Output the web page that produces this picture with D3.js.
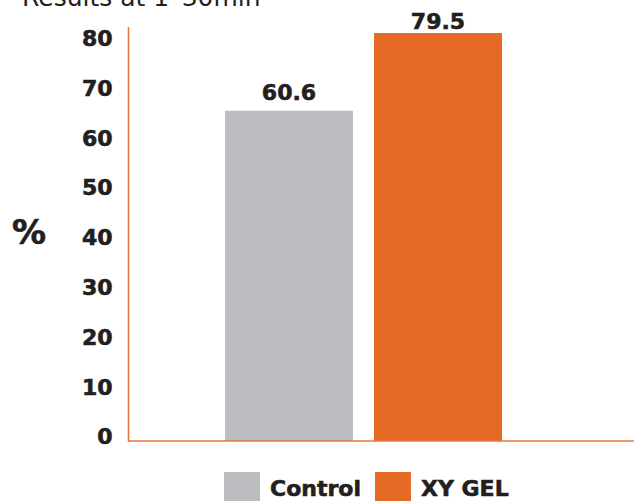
<!DOCTYPE html>
<html><head><meta charset="utf-8">
<script src="https://cdn.jsdelivr.net/npm/d3@7"></script>
<style>html,body{margin:0;padding:0;background:#fff;}svg{display:block;}</style>
</head><body>
<svg id="chart" width="634" height="501"></svg>
<script>
// Data
const categories = ["Control", "XY GEL"];
const barValues = [66.3, 81.9];          // bar heights as drawn in the reference
const valueLabels = ["60.6", "79.5"];    // printed labels above the bars
const barColors = ["#BCBDC1", "#E56A25"];
const yTicks = [0, 10, 20, 30, 40, 50, 60, 70, 80];
const titleText = "Results at 1–30min";
const yAxisTitle = "%";

const svg = d3.select("#chart");
const textColor = "#231F20";
const axisColor = "#E8773A";
const font = "'DejaVu Sans', sans-serif";
const heavy = sel => sel.attr("stroke", textColor).attr("stroke-width", 0.6).attr("paint-order", "stroke");

const x0 = 128.5, baseY = 441, topY = 27;
const y = d3.scaleLinear().domain([0, 80]).range([baseY, 42.5]);
const x = d3.scaleBand().domain(categories).range([225, 502]).paddingInner(0.141).paddingOuter(0);

// Title (cut off at top)
svg.append("text").attr("x", 22).attr("y", 6)
  .attr("font-family", font).attr("font-size", 25).attr("font-weight", 500)
  .attr("fill", textColor).text(titleText);

// Bars
svg.selectAll("rect.bar").data(categories).enter().append("rect")
  .attr("class", "bar")
  .attr("x", d => x(d)).attr("width", x.bandwidth())
  .attr("y", (d, i) => y(barValues[i]))
  .attr("height", (d, i) => baseY - y(barValues[i]))
  .attr("fill", (d, i) => barColors[i]);

// Value labels
const labelGap = [11, 4];
svg.selectAll("text.val").data(categories).enter().append("text")
  .attr("class", "val")
  .attr("x", d => x(d) + x.bandwidth() / 2)
  .attr("y", (d, i) => y(barValues[i]) - labelGap[i])
  .attr("text-anchor", "middle")
  .attr("font-family", font).attr("font-size", 22).attr("font-weight", "bold")
  .attr("fill", textColor).text((d, i) => valueLabels[i]).call(heavy);

// Y axis tick labels (no tick marks)
const yAxis = d3.axisLeft(y).tickValues(yTicks).tickSize(0).tickPadding(16);
const gy = svg.append("g").attr("transform", `translate(${x0},0)`).call(yAxis);
gy.select(".domain").remove();
gy.selectAll("text")
  .attr("font-family", font).attr("font-size", 22).attr("font-weight", "bold")
  .attr("fill", textColor).attr("dy", "0.13em").call(heavy);

// Axis lines
svg.append("line").attr("x1", x0).attr("x2", x0).attr("y1", topY).attr("y2", baseY + 0.5)
  .attr("stroke", axisColor).attr("stroke-width", 1.6);
svg.append("line").attr("x1", x0 - 0.5).attr("x2", 634).attr("y1", baseY).attr("y2", baseY)
  .attr("stroke", axisColor).attr("stroke-width", 1.6);

// Y axis title
svg.append("text").attr("x", 29).attr("y", 232).attr("text-anchor", "middle")
  .attr("dominant-baseline", "central")
  .attr("font-family", font).attr("font-size", 34).attr("font-weight", "bold")
  .attr("fill", textColor).text(yAxisTitle).call(heavy);

// Legend
const legendX = [224, 375];
const lg = svg.selectAll("g.leg").data(categories).enter().append("g")
  .attr("class", "leg").attr("transform", (d, i) => `translate(${legendX[i]},472)`);
lg.append("rect").attr("width", 36).attr("height", 36).attr("fill", (d, i) => barColors[i]);
lg.append("text").attr("x", 46).attr("y", 24)
  .attr("font-family", font).attr("font-size", 22).attr("font-weight", "bold")
  .attr("fill", textColor).text(d => d).call(heavy);
</script>
</body></html>
